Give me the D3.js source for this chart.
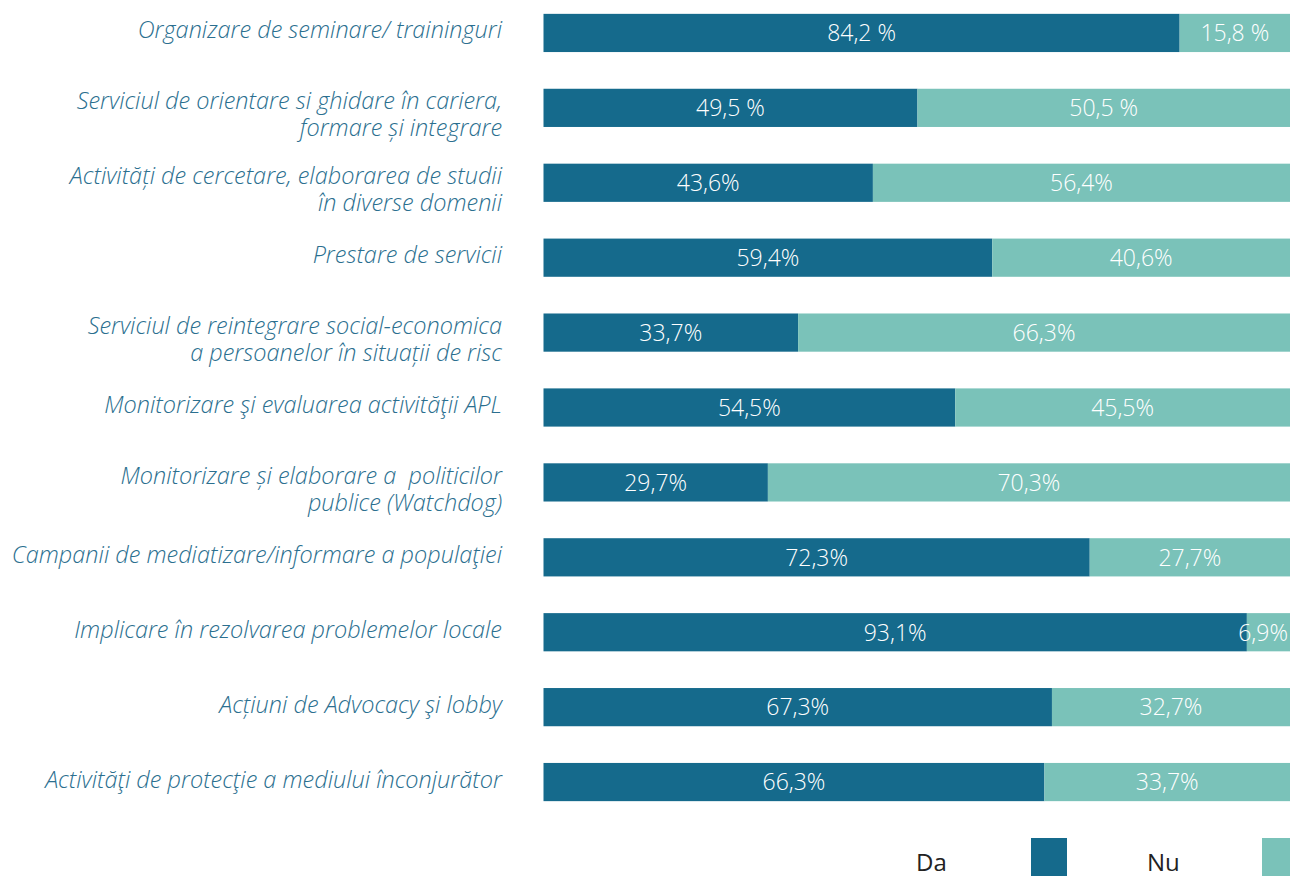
<html>
<head>
<meta charset="utf-8">
<style>
  body { margin: 0; background: #fff; }
  text { font-family: "Open Sans", sans-serif; }
</style>
</head>
<body>
<div id="chart"></div>
<script src="https://d3js.org/d3.v7.min.js"></script>
<script>
var categories = [
  ["Organizare de seminare/ traininguri"],
  ["Serviciul de orientare si ghidare în cariera,", "formare și integrare"],
  ["Activități de cercetare, elaborarea de studii", "în diverse domenii"],
  ["Prestare de servicii"],
  ["Serviciul de reintegrare social-economica", "a persoanelor în situații de risc"],
  ["Monitorizare şi evaluarea activităţii APL"],
  ["Monitorizare și elaborare a  politicilor", "publice (Watchdog)"],
  ["Campanii de mediatizare/informare a populaţiei"],
  ["Implicare în rezolvarea problemelor locale"],
  ["Acțiuni de Advocacy şi lobby"],
  ["Activităţi de protecţie a mediului înconjurător"]
];
var da = [84.2, 49.5, 43.6, 59.4, 33.7, 54.5, 29.7, 72.3, 93.1, 67.3, 66.3];
var nu = [15.8, 50.5, 56.4, 40.6, 66.3, 45.5, 70.3, 27.7, 6.9, 32.7, 33.7];
var daLabels = ["84,2 %", "49,5 %", "43,6%", "59,4%", "33,7%", "54,5%", "29,7%", "72,3%", "93,1%", "67,3%", "66,3%"];
var nuLabels = ["15,8 %", "50,5 %", "56,4%", "40,6%", "66,3%", "45,5%", "70,3%", "27,7%", "6,9%", "32,7%", "33,7%"];
var legendNames = ["Da", "Nu"];
var colors = ["#156a8c", "#7ac2b9"];

var width = 1290, height = 876;
var svg = d3.select("#chart").append("svg")
  .attr("width", width)
  .attr("height", height);

// the chart runs a little past the right edge of the picture
var x = d3.scaleLinear().domain([0, 100]).range([543.5, 1299]);
var y = d3.scaleBand()
  .domain(d3.range(categories.length))
  .range([-4.5, 819.5])
  .paddingInner(0.49)
  .paddingOuter(0.49 / 2);

function visEnd(v) { return Math.min(x(v), width); }

var rows = svg.selectAll("g.row")
  .data(categories)
  .enter()
  .append("g")
  .attr("class", "row");

// Da segment
rows.append("rect")
  .attr("x", x(0))
  .attr("y", function (d, i) { return y(i); })
  .attr("width", function (d, i) { return x(da[i]) - x(0); })
  .attr("height", y.bandwidth())
  .attr("fill", colors[0]);

// Nu segment
rows.append("rect")
  .attr("x", function (d, i) { return x(da[i]); })
  .attr("y", function (d, i) { return y(i); })
  .attr("width", function (d, i) { return x(da[i] + nu[i]) - x(da[i]); })
  .attr("height", y.bandwidth())
  .attr("fill", colors[1]);

rows.append("text")
  .attr("x", function (d, i) { return (x(0) + x(da[i])) / 2; })
  .attr("y", function (d, i) { return y(i) + y.bandwidth() / 2; })
  .attr("dy", "0.36em")
  .attr("text-anchor", "middle")
  .attr("fill", "#fff")
  .style("font-size", "23px")
  .style("font-weight", 300)
  .style("white-space", "pre")
  .text(function (d, i) { return daLabels[i]; });

rows.append("text")
  .attr("class", "nu-label")
  .attr("x", function (d, i) { return (x(da[i]) + visEnd(da[i] + nu[i])) / 2; })
  .attr("y", function (d, i) { return y(i) + y.bandwidth() / 2; })
  .attr("dy", "0.36em")
  .attr("text-anchor", "middle")
  .attr("fill", "#fff")
  .style("font-size", "23px")
  .style("font-weight", 300)
  .style("white-space", "pre")
  .text(function (d, i) { return nuLabels[i]; });

// keep the small labels inside the picture
svg.selectAll("text.nu-label").each(function () {
  var t = d3.select(this);
  var w = this.getComputedTextLength();
  var cx = +t.attr("x");
  if (cx + w / 2 > width - 2) t.attr("x", width - 2 - w / 2);
});

// category labels
rows.append("text")
  .attr("text-anchor", "end")
  .attr("fill", "#2b6f8f")
  .style("font-size", "23.5px")
  .style("font-style", "italic")
  .style("font-weight", 300)
  .style("white-space", "pre")
  .attr("transform", function (d, i) {
    var cy = y(i) + y.bandwidth() / 2;
    var off = d.length > 1 ? -7 : -3;
    return "translate(502," + (cy + off) + ")";
  })
  .selectAll("tspan")
  .data(function (d) { return d; })
  .enter()
  .append("tspan")
  .attr("x", 0)
  .attr("y", function (d, j) { return j * 27; })
  .attr("dy", "0.36em")
  .text(function (d) { return d; });

// legend
var legend = svg.selectAll("g.legend")
  .data(legendNames)
  .enter()
  .append("g")
  .attr("class", "legend")
  .attr("transform", function (d, i) { return "translate(" + (916 + i * 231) + ",0)"; });

legend.append("text")
  .attr("x", 0)
  .attr("y", 871)
  .attr("fill", "#222")
  .style("font-size", "24px")
  .text(function (d) { return d; });

legend.append("rect")
  .attr("x", 115)
  .attr("y", 838)
  .attr("width", 36)
  .attr("height", 40)
  .attr("fill", function (d, i) { return colors[i]; });
</script>
</body>
</html>
